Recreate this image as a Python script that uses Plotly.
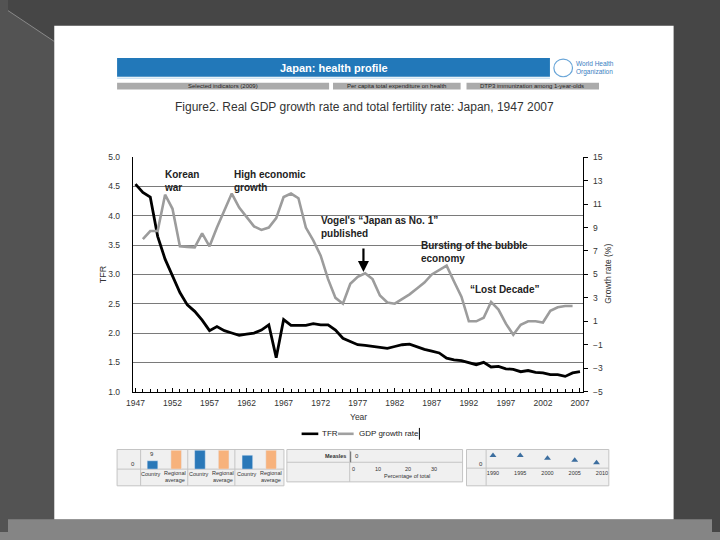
import plotly.graph_objects as go

# The page keeps an 8px body margin, so the figure is 704x524 and all layout
# positions below are given in window pixels (720x540) and converted.
W, H = 704, 524
OFF = 8

# ---------------- data ----------------
tfr_years = list(range(1947, 2008))
tfr_values = [4.54, 4.40, 4.32, 3.65, 3.26, 2.98, 2.69, 2.48, 2.37, 2.22,
              2.04, 2.11, 2.04, 2.00, 1.96, 1.98, 2.00, 2.05, 2.14, 1.58,
              2.23, 2.13, 2.13, 2.13, 2.16, 2.14, 2.14, 2.05, 1.91, 1.85,
              1.80, 1.79, 1.77, 1.75, 1.74, 1.77, 1.80, 1.81, 1.76, 1.72,
              1.69, 1.66, 1.57, 1.54, 1.53, 1.50, 1.46, 1.50, 1.42, 1.43,
              1.39, 1.38, 1.34, 1.36, 1.33, 1.32, 1.29, 1.29, 1.26, 1.32,
              1.34]

gdp_years = list(range(1948, 2007))
gdp_values = [8.0, 8.7, 8.7, 11.8, 10.6, 7.4, 7.35, 7.3, 8.5, 7.4,
              9.0, 10.5, 11.9, 10.7, 9.9, 9.1, 8.8, 9.0, 9.8, 11.6,
              11.9, 11.5, 9.0, 7.9, 6.6, 4.6, 3.0, 2.5, 4.2, 4.8,
              5.1, 4.6, 3.2, 2.6, 2.5, 2.9, 3.3, 3.8, 4.3, 5.0,
              5.4, 5.75, 4.4, 3.1, 1.0, 1.0, 1.3, 2.65, 2.0, 0.8,
              -0.15, 0.7, 1.0, 1.0, 0.9, 1.9, 2.2, 2.3, 2.3]

x_tick_years = list(range(1947, 2008, 5))
tfr_ticks = [1.0, 1.5, 2.0, 2.5, 3.0, 3.5, 4.0, 4.5, 5.0]
gdp_ticks = list(range(-5, 16, 2))
legend_names = ["TFR", "GDP growth rate"]

# small strip at the bottom (partly hidden in the original slide)
mini_bar_cats = ["c1", "r1", "c2", "r2", "c3", "r3"]
mini_bar_values = [9, 25, 40, 30, 15, 28]
mini_bar_colors = ["#2a78b8", "#f7b27c", "#2a78b8", "#f7b27c", "#2a78b8", "#f7b27c"]
mini_tri_years = [1990, 1995, 2000, 2005, 2009]
mini_tri_values = [9, 9, 6, 4, 1.5]
mini_tri_ticks = [1990, 1995, 2000, 2005, 2010]


def px(x):
    return (x - OFF) / W


def py(y):
    return 1 - (y - OFF) / H


fig = go.Figure()

fig.add_trace(go.Scatter(x=tfr_years, y=tfr_values, mode="lines", name=legend_names[0],
                         line=dict(color="#000000", width=2.8), yaxis="y"))
fig.add_trace(go.Scatter(x=gdp_years, y=gdp_values, mode="lines", name=legend_names[1],
                         line=dict(color="#9c9c9c", width=2.6), yaxis="y2"))

fig.add_trace(go.Bar(x=mini_bar_cats, y=mini_bar_values, marker_color=mini_bar_colors,
                     width=0.45, xaxis="x3", yaxis="y3"))
fig.add_trace(go.Scatter(x=mini_tri_years, y=mini_tri_values, mode="markers",
                         marker=dict(symbol="triangle-up", size=6, color="#3c6e9f"),
                         xaxis="x4", yaxis="y4"))

shapes = []


def rect(x0, y0, x1, y1, fill, line=None, lw=0):
    shapes.append(dict(type="rect", xref="paper", yref="paper",
                       x0=px(x0), x1=px(x1), y0=py(y1), y1=py(y0),
                       fillcolor=fill, line=dict(color=line or fill, width=lw),
                       layer="below"))


def seg(x0, y0, x1, y1, color, w=1, layer="below"):
    shapes.append(dict(type="line", xref="paper", yref="paper",
                       x0=px(x0), x1=px(x1), y0=py(y0), y1=py(y1),
                       line=dict(color=color, width=w), layer=layer))


# slide background
shapes.append(dict(type="path", xref="paper", yref="paper",
                   path=f"M {px(0)} {py(5)} L {px(48)} {py(37)} L {px(48)} {py(540)} L {px(0)} {py(540)} Z",
                   fillcolor="#535353", line=dict(width=0), layer="below"))
seg(0, 5, 48, 37, "#8a8a8a", 1)
rect(0, 524, 720, 545, "#858585")
rect(48, 21, 679, 524, "#ffffff")

# header
rect(112, 54, 553, 73, "#2278b9")
seg(112, 74.5, 553, 74.5, "#cfe3f2", 1.5)
rect(112, 79, 328, 86, "#ababab")
rect(332, 79, 462, 86, "#ababab")
rect(468, 79, 603, 86, "#ababab")
shapes.append(dict(type="circle", xref="paper", yref="paper",
                   x0=px(557), x1=px(576), y0=py(73), y1=py(55),
                   line=dict(color="#6aa6d8", width=1.2), layer="below"))

# bottom strip panels
rect(112, 453, 282, 490, "#f0f0f0", "#c4c4c4", 1)
seg(136, 453, 136, 490, "#c4c4c4")
seg(184, 453, 184, 490, "#c4c4c4")
seg(232, 453, 232, 490, "#c4c4c4")
seg(112, 473, 282, 473, "#c4c4c4")
rect(285, 453, 464, 486, "#f0f0f0", "#c4c4c4", 1)
seg(349, 453, 349, 486, "#c4c4c4")
seg(285, 466, 464, 466, "#c4c4c4")
seg(350, 455, 350, 466, "#666666")
rect(468, 453, 613, 490, "#f0f0f0", "#c4c4c4", 1)
seg(488, 453, 488, 490, "#c4c4c4")
seg(468, 472, 613, 472, "#c4c4c4")

# legend swatches and text cursor
seg(300, 437, 317, 437, "#000000", 2.6, "above")
seg(337, 437, 353, 437, "#a0a0a0", 2.6, "above")
seg(420, 431, 420, 443, "#000000", 1, "above")

anns = []


def ann(text, x, y, size, color="#222222", xanchor="left", yanchor="middle",
        bold=False, angle=0, family="Liberation Sans"):
    anns.append(dict(text=f"<b>{text}</b>" if bold else text, x=px(x), y=py(y),
                     xref="paper", yref="paper", showarrow=False,
                     xanchor=xanchor, yanchor=yanchor, textangle=angle,
                     align=xanchor if xanchor != "center" else "center",
                     font=dict(size=size, color=color, family=family)))


ann("Japan: health profile", 333, 64, 11, "#ffffff", "center", bold=True)
ann("World Health<br>Organization", 578, 64, 6.5, "#3a80c2")
ann("Selected indicators (2009)", 220, 82.5, 6, "#222222", "center")
ann("Per capita total expenditure on health", 397, 82.5, 6, "#222222", "center")
ann("DTP3 immunization among 1-year-olds", 535, 82.5, 6, "#222222", "center")
ann("Figure2. Real GDP growth rate and total fertility rate: Japan, 1947 2007",
    364, 104, 12, "#333333", "center")

ann("Korean<br>war", 158, 165, 10, "#222222", "left", "top", bold=True)
ann("High economic<br>growth", 229, 165, 10, "#222222", "left", "top", bold=True)
ann("Vogel's “Japan as No. 1”<br>published", 318, 212, 10, "#222222", "left", "top", bold=True)
ann("Bursting of the bubble<br>economy", 420, 237, 10, "#222222", "left", "top", bold=True)
ann("“Lost Decade”", 470, 290, 10, "#222222", "left", "middle", bold=True)

ann("TFR", 98, 274, 9, "#333333", "center", "middle", angle=-90)
ann("Growth rate (%)", 612, 274, 8.5, "#333333", "center", "middle", angle=-90)
ann("Year", 358, 420, 8.5, "#333333", "center")

ann(legend_names[0], 319, 437, 8, "#222222", "left")
ann(legend_names[1], 356, 437, 8, "#222222", "left")

anns.append(dict(x=px(363), y=py(272), xref="paper", yref="paper", text="",
                 showarrow=True, ax=0, ay=-25, arrowhead=2, arrowsize=1,
                 arrowwidth=2.2, arrowcolor="#000000"))

# bottom strip texts
ann("0", 128, 468, 6, "#333333", "center")
ann("9", 148, 458, 6, "#333333", "center")
for xc in (147, 195, 244):
    ann("Country", xc, 478, 5.5, "#333333", "center")
for xc in (171, 220, 269):
    ann("Regional<br>average", xc, 481, 5.5, "#333333", "center")
ann("Measles", 347, 460, 5.5, "#333333", "right", bold=True)
ann("0", 352, 460, 6, "#333333", "left")
for lbl, xc in (("0", 353), ("10", 378), ("20", 408), ("30", 435)):
    ann(lbl, xc, 473, 5.5, "#333333", "center")
ann("Percentage of total", 407, 480, 5.5, "#333333", "center")
ann("0", 483, 468, 6, "#333333", "center")

tick_font = dict(size=8.5, color="#333333", family="Liberation Sans")

fig.update_layout(
    width=W, height=H,
    margin=dict(l=0, r=0, t=0, b=0),
    paper_bgcolor="#464646",
    plot_bgcolor="rgba(0,0,0,0)",
    shapes=shapes,
    annotations=anns,
    showlegend=False,
    xaxis=dict(domain=[px(128), px(587)], range=[1946.64, 2007.45],
               tickvals=x_tick_years, ticks="inside", ticklen=4, tickcolor="#000000",
               minor=dict(dtick=1, tick0=1947, ticks="inside", ticklen=3, tickcolor="#000000"),
               showline=True, linecolor="#000000", linewidth=1, showgrid=False,
               zeroline=False, tickfont=tick_font, ticklabelstandoff=3, anchor="y"),
    yaxis=dict(domain=[py(394), py(155)], range=[1, 5], tickvals=tfr_ticks,
               tickformat=".1f", showgrid=True, gridcolor="#7a7a7a", gridwidth=1,
               showline=True, linecolor="#000000", linewidth=1, ticks="",
               zeroline=False, tickfont=tick_font, ticklabelstandoff=10, anchor="x"),
    yaxis2=dict(overlaying="y", side="right", range=[-5, 15], tickvals=gdp_ticks,
                showgrid=False, showline=True, linecolor="#000000", linewidth=1,
                ticks="outside", ticklen=4, tickcolor="#000000",
                zeroline=False, tickfont=tick_font, ticklabelstandoff=3, anchor="x"),
    xaxis3=dict(domain=[px(136), px(281)], type="category", visible=False,
                anchor="y3", fixedrange=True),
    yaxis3=dict(domain=[py(473), py(454)], range=[0, 20], visible=False,
                anchor="x3", fixedrange=True),
    xaxis4=dict(domain=[px(488), px(613)], range=[1988.74, 2011.26],
                tickvals=mini_tri_ticks, showgrid=False, zeroline=False,
                showline=False, ticks="",
                tickfont=dict(size=5.5, color="#333333", family="Liberation Sans"),
                anchor="y4"),
    yaxis4=dict(domain=[py(472), py(453)], range=[-4, 15], visible=False,
                anchor="x4"),
    bargap=0.5,
)

fig.write_html(
    "out.html",
    config={"displayModeBar": False, "staticPlot": True},
    post_script=("document.body.style.background="
                 "'linear-gradient(to bottom, rgba(0,0,0,0) 532px, #858585 532px),"
                 " linear-gradient(to right, #535353 8px, rgba(0,0,0,0) 8px), #464646';"),
)
